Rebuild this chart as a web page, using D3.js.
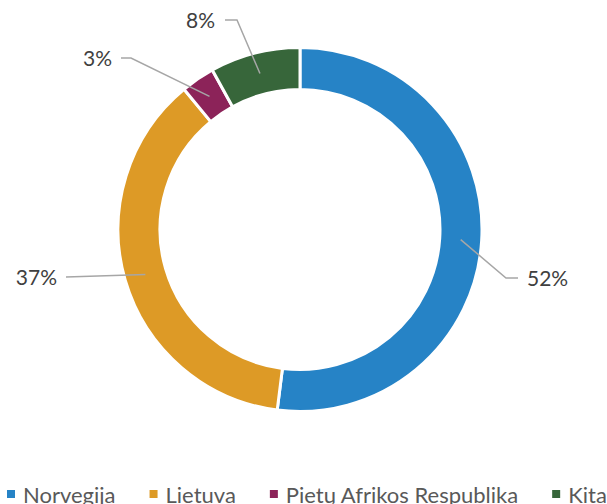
<!DOCTYPE html>
<html>
<head>
<meta charset="utf-8">
<script src="https://cdn.jsdelivr.net/npm/d3@7"></script>
<style>
  html, body { margin: 0; padding: 0; background: #fff; overflow: hidden; }
  svg { display: block; font-family: Lato, "Open Sans", sans-serif; }
</style>
</head>
<body>
<div id="chart"></div>
<script>
// data
var categories = ["Norvegija", "Lietuva", "Pietų Afrikos Respublika", "Kita"];
var shares = [52, 37, 3, 8];
var colors = ["#2683C6", "#DD9A26", "#8C2359", "#37663A"];
var labels = ["52%", "37%", "3%", "8%"];

function chart() {
  var w = 607;
  var h = 504;
  var cx = 300, cy = 229.5;
  var rOut = 182, rIn = 140, rMid = 161;

  var svg = d3.select("#chart")
              .append("svg")
              .attr("width", w)
              .attr("height", h);

  var pie = d3.pie().sort(null).value(function(d) { return d; });
  var arcs = pie(shares);

  var arc = d3.arc().innerRadius(rIn).outerRadius(rOut);

  var g = svg.append("g").attr("transform", "translate(" + cx + "," + cy + ")");

  g.selectAll("path")
   .data(arcs)
   .enter()
   .append("path")
   .attr("d", arc)
   .attr("fill", function(d, i) { return colors[i]; })
   .attr("stroke", "#fff")
   .attr("stroke-width", 3);

  // label placement (elbow point, end point) relative to centre, picked by eye
  var labelLayout = [
    { elbow: [206, 48.5], end: [218, 48.5], anchor: "start", tx: 227, ty: 48.5 },
    { elbow: [-234, 47.5], end: [-234, 47.5], anchor: "end", tx: -243, ty: 47.5 },
    { elbow: [-169, -171.5], end: [-179, -171.5], anchor: "end", tx: -188, ty: -171.5 },
    { elbow: [-63, -209.5], end: [-75, -209.5], anchor: "end", tx: -85, ty: -209.5 }
  ];

  arcs.forEach(function(d, i) {
    var a = (d.startAngle + d.endAngle) / 2;
    var p0 = [rMid * Math.sin(a), -rMid * Math.cos(a)];
    var L = labelLayout[i];
    g.append("polyline")
     .attr("points", [p0, L.elbow, L.end].map(function(p) { return p.join(","); }).join(" "))
     .attr("fill", "none")
     .attr("stroke", "#A6A6A6")
     .attr("stroke-width", 1.5);
    g.append("text")
     .attr("x", L.tx)
     .attr("y", L.ty)
     .attr("dy", "0.36em")
     .attr("text-anchor", L.anchor)
     .attr("fill", "#404040")
     .style("font-size", "21px")
     .text(labels[i]);
  });

  // legend
  var legend = svg.append("g").attr("transform", "translate(7,0)");
  var x = 0;
  categories.forEach(function(c, i) {
    legend.append("rect")
          .attr("x", x)
          .attr("y", 490)
          .attr("width", 8)
          .attr("height", 8)
          .attr("fill", colors[i]);
    var t = legend.append("text")
          .attr("x", x + 16)
          .attr("y", 503)
          .attr("fill", "#595959")
          .style("font-size", "22px")
          .text(c);
    x += 16 + t.node().getComputedTextLength() + 34;
  });
}

window.onload = function() {
  chart();
};
</script>
</body>
</html>
